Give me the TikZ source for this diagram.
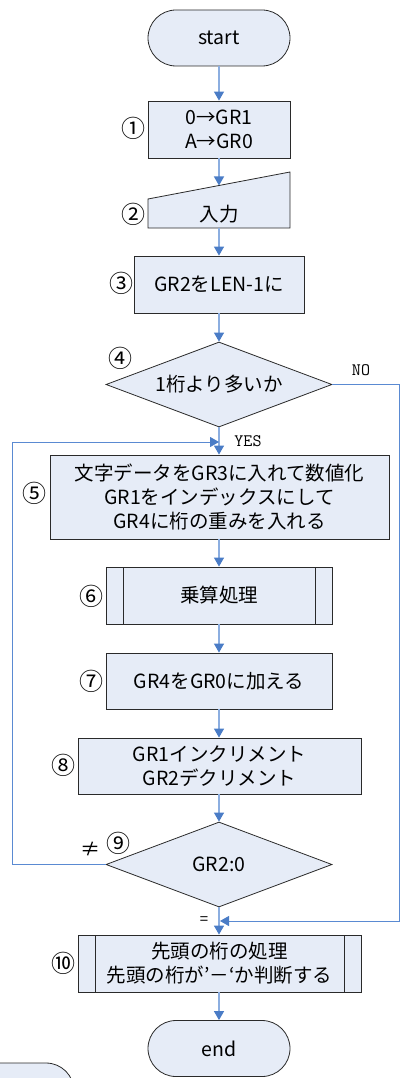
\documentclass[tikz,border=0pt]{standalone}
\usepackage{fontspec}
\setmainfont{Noto Sans CJK JP}
\usetikzlibrary{arrows.meta,shapes.geometric}
\definecolor{boxfill}{HTML}{E6ECF7}
\definecolor{linkline}{HTML}{8CAEE0}
\definecolor{linkhead}{HTML}{4A7CC6}
\definecolor{loopline}{HTML}{5A8AD2}
\definecolor{edgecol}{HTML}{2A2A2A}
\begin{document}
\begin{tikzpicture}[x=1pt,y=-1pt,
  base/.style={draw=edgecol, line width=0.8pt, fill=boxfill, font=\fontsize{19.5}{24}\selectfont, align=center, inner sep=0pt},
  terminal/.style={base, rounded corners=28pt, minimum width=142pt, minimum height=56pt},
  proc/.style={base, rectangle},
  decision/.style={base, diamond, minimum width=226pt, minimum height=85pt, shape aspect=2.66},
  predef/.style={proc, path picture={\draw[edgecol, line width=0.8pt]
      ([xshift=17pt]path picture bounding box.north west) -- ([xshift=17pt]path picture bounding box.south west)
      ([xshift=-17pt]path picture bounding box.north east) -- ([xshift=-17pt]path picture bounding box.south east);}},
  num/.style={font=\fontsize{24}{24}\selectfont, inner sep=0pt},
  flow/.style={draw=linkline, line width=1.2pt, -{Triangle[length=9pt,width=10pt,color=linkhead]}},
  loopflow/.style={draw=loopline, line width=0.9pt, -{Triangle[length=9pt,width=10pt,color=linkhead]}},
  lbl/.style={font=\ttfamily\fontsize{17.5}{17.5}\selectfont, inner sep=0pt}
]
\useasboundingbox (0,0) rectangle (401,1078);

% partial shape at bottom left
\begin{scope}
  \clip (0,0) rectangle (401,1078);
  \draw[draw=edgecol, line width=0.8pt, fill=boxfill, rounded corners=28pt] (-68,1063) rectangle (74,1119);
\end{scope}

\node[terminal] (start) at (219,38) {start};
\node[proc, minimum width=142pt, minimum height=57pt] (p1) at (219,129.5) {0→GR1\\A→GR0};

\filldraw[draw=edgecol, line width=0.8pt, fill=boxfill] (148,199) -- (290,172) -- (290,228) -- (148,228) -- cycle;
\node[font=\fontsize{19.5}{24}\selectfont, inner sep=0pt] (p2) at (219,214) {入力};
\coordinate (p2top) at (219,185.5);
\coordinate (p2bot) at (219,228);

\node[proc, minimum width=170pt, minimum height=57pt] (p3) at (219,284.5) {GR2をLEN-1に};
\node[decision] (d4) at (219,384.5) {1桁より多いか};
\node[proc, minimum width=339pt, minimum height=84pt] (p5) at (219.5,497) {文字データをGR3に入れて数値化\\GR1をインデックスにして\\GR4に桁の重みを入れる};
\node[predef, minimum width=226pt, minimum height=57pt] (p6) at (219,595.5) {乗算処理};
\node[proc, minimum width=226pt, minimum height=56pt] (p7) at (219,681) {GR4をGR0に加える};
\node[proc, minimum width=283pt, minimum height=56pt] (p8) at (219.5,766) {GR1インクリメント\\GR2デクリメント};
\node[decision] (d9) at (219,864.5) {GR2:0};
\node[predef, minimum width=283pt, minimum height=57pt] (p10) at (219.5,963.5) {先頭の桁の処理\\先頭の桁が’－‘か判断する};
\node[terminal] (end) at (219,1048.5) {end};

% step numbers
\node[num] (n1) at (133,128) {①};
\node[num] (n2) at (133,214) {②};
\node[num] (n3) at (121,283) {③};
\node[num] (n4) at (120,358) {④};
\node[num] (n5) at (35,493) {⑤};
\node[num] (n6) at (91,596) {⑥};
\node[num] (n7) at (91,681) {⑦};
\node[num] (n8) at (63,765) {⑧};
\node[num] (n9) at (118,843) {⑨};
\node[num] (n10) at (63,963) {⑩};

% connectors
\coordinate (yesjoin) at (219,442);
\coordinate (nojoin) at (220,921);
\draw[flow] (start) -- (p1);
\draw[flow] (p1) -- (p2top);
\draw[flow] (p2bot) -- (p3);
\draw[flow] (p3) -- (d4);
\draw[flow] (d4.south) -- (d4.south |- p5.north);
\draw[flow] (p6.north |- p5.south) -- (p6.north);
\draw[flow] (p6) -- (p7);
\draw[flow] (p7.south) -- (p7.south |- p8.north);
\draw[flow] (d9.north |- p8.south) -- (d9.north);
\draw[flow] (d9.south) -- (d9.south |- p10.north);
\draw[flow] (end.north |- p10.south) -- (end.north);
\draw[loopflow] (d9.west) -- ++(-93,0) |- (yesjoin);
\draw[loopflow] (d4.east) -- ++(67,0) |- (nojoin);

% branch labels
\node[lbl] (no) at (361,370) {NO};
\node[lbl] (yes) at (248,441) {YES};
\node[font=\fontsize{20}{20}\selectfont, inner sep=0pt] (ne) at (90,849) {≠};
\node[font=\fontsize{15}{15}\selectfont, inner sep=0pt] (eq) at (204,921) {=};
\end{tikzpicture}
\end{document}
